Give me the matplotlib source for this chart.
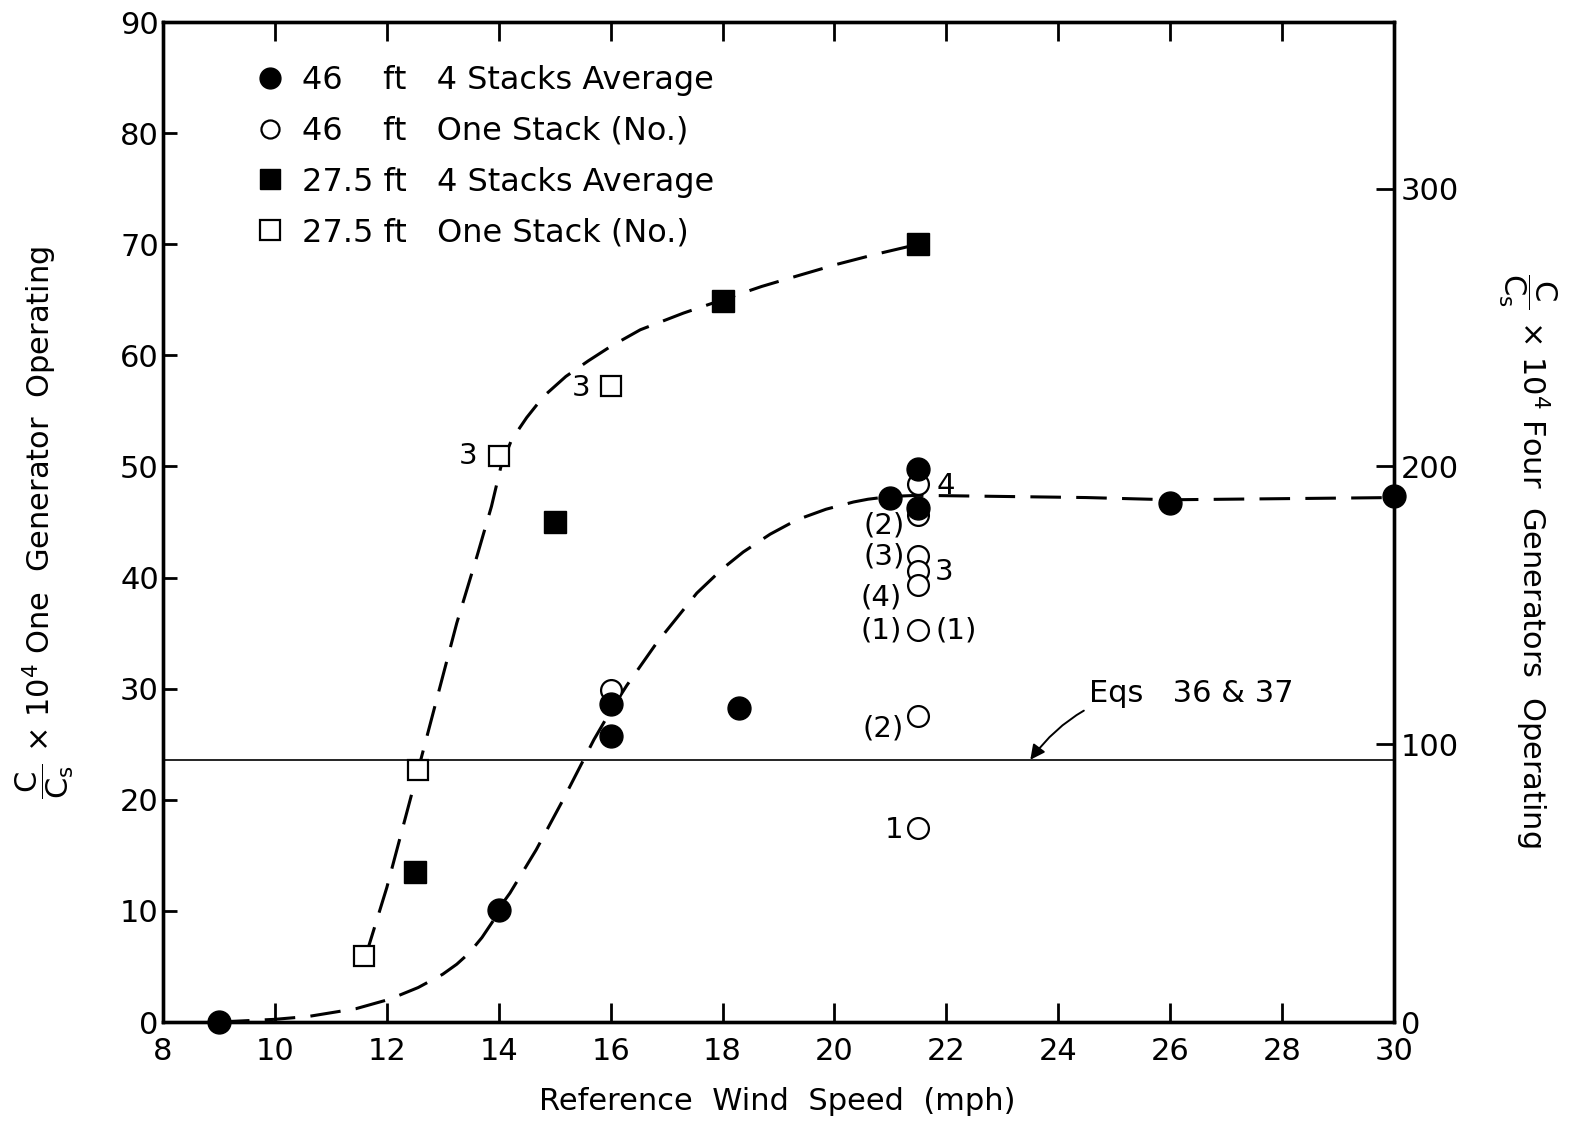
import matplotlib
matplotlib.use("Agg")
import matplotlib.pyplot as plt
from matplotlib.lines import Line2D

# ---------------- data ----------------
avg46_x = [9, 14, 16, 16, 18.3, 21, 21.5, 21.5, 26, 30]
avg46_y = [0, 10.1, 28.6, 25.7, 28.3, 47.2, 49.8, 46.3, 46.7, 47.3]

one46_x = [16, 21.5, 21.5, 21.5, 21.5, 21.5, 21.5, 21.5, 21.5]
one46_y = [29.9, 48.4, 45.6, 41.9, 40.6, 39.3, 35.3, 27.5, 17.5]

avg275_x = [12.5, 15, 18, 21.5]
avg275_y = [13.5, 45.0, 64.9, 70.0]

one275_x = [11.6, 12.55, 14, 16]
one275_y = [5.9, 22.7, 50.9, 57.2]

curve46_x = [9, 10, 10.6, 11.45, 12.05, 12.56, 13.0, 13.25, 13.47, 13.7, 13.94,
             14.0, 14.2, 14.67, 15.15, 15.7, 16.0, 16.29, 16.82, 17.54, 18.0,
             18.37, 18.85, 19.33, 19.85, 20.34, 20.6, 21.0, 21.5, 23, 24.5, 26,
             28, 30]
curve46_y = [0, 0.24, 0.5, 1.2, 2.05, 3.1, 4.3, 5.2, 6.2, 7.6, 9.4,
             10.2, 11.6, 15.5, 20.0, 25.4, 28.0, 30.3, 34.1, 38.6, 40.8,
             42.3, 43.9, 45.2, 46.15, 46.8, 47.05, 47.3, 47.4, 47.3, 47.2, 47.0,
             47.1, 47.2]

curve275_x = [11.62, 12.0, 12.56, 12.9, 13.25, 13.61, 13.87, 14.04, 14.23, 14.5,
              14.8, 15.2, 15.6, 16.0, 16.53, 17.3, 18.0, 18.7, 19.37, 20.05,
              20.74, 21.5]
curve275_y = [5.9, 12.1, 22.7, 29.2, 35.9, 41.9, 46.4, 50.0, 52.4, 54.4,
              56.3, 58.1, 59.5, 60.8, 62.3, 63.8, 65.0, 66.2, 67.2, 68.2,
              69.1, 70.0]

eq_value = 23.6

# point labels (text, x, y of the point they belong to)
lab_text = ["3", "3", "4", "(2)", "(3)", "3", "(4)", "(1)", "(1)", "(2)", "1"]
lab_x = [14, 16, 21.5, 21.5, 21.5, 21.5, 21.5, 21.5, 21.5, 21.5, 21.5]
lab_y = [50.9, 57.2, 48.4, 45.6, 41.9, 40.6, 39.3, 35.3, 35.3, 27.5, 17.5]
# offsets in pixels (style)
lab_dx = [-31, -30, 27, -34, -34, 26, -37, -37, 38, -35, -24]
lab_dy = [0, -2, -2, -10, 0, -1, -12, -1, -1, -12, -2]

xticks = list(range(8, 31, 2))
yticks = list(range(0, 91, 10))
rticks = [0, 100, 200, 300]

legend_labels = ["46    ft   4 Stacks Average",
                 "46    ft   One Stack (No.)",
                 "27.5 ft   4 Stacks Average",
                 "27.5 ft   One Stack (No.)"]

# ---------------- figure ----------------
plt.rcParams["font.family"] = ["DejaVu Sans"]
plt.rcParams["mathtext.fontset"] = "dejavusans"

W, H = 1571, 1122
fig = plt.figure(figsize=(W / 100, H / 100), dpi=100)
ax = fig.add_axes([163 / W, 1 - 1022 / H, (1394 - 163) / W, (1022 - 22) / H])

ax.set_xlim(8, 30)
ax.set_ylim(0, 90)

dash = (0, (10, 5))
ax.plot(curve46_x, curve46_y, color="black", lw=2.2, linestyle=dash, zorder=2)
ax.plot(curve275_x, curve275_y, color="black", lw=2.2, linestyle=dash, zorder=2)
ax.axhline(eq_value, color="black", lw=1.2, zorder=1)

ax.plot(one46_x, one46_y, ls="none", marker="o", ms=15, mfc="white", mec="black",
        mew=1.6, zorder=3, clip_on=False)
ax.plot(one275_x, one275_y, ls="none", marker="s", ms=15, mfc="white", mec="black",
        mew=1.6, zorder=3, clip_on=False)
ax.plot(avg46_x, avg46_y, ls="none", marker="o", ms=16.5, mfc="black", mec="black",
        zorder=4, clip_on=False)
ax.plot(avg275_x, avg275_y, ls="none", marker="s", ms=15.5, mfc="black", mec="black",
        zorder=4, clip_on=False)

for t, x, y, dx, dy in zip(lab_text, lab_x, lab_y, lab_dx, lab_dy):
    ax.annotate(t, xy=(x, y), xytext=(dx, dy), textcoords="offset pixels",
                ha="center", va="center", fontsize=21)

ax.annotate("Eqs   36 & 37", xy=(23.5, eq_value), xytext=(24.55, 29.6),
            fontsize=22, ha="left", va="center",
            arrowprops=dict(arrowstyle="-|>", color="black", lw=1.4,
                            mutation_scale=22,
                            connectionstyle="arc3,rad=0.3",
                            shrinkA=2, shrinkB=0))

# axes styling
for s in ax.spines.values():
    s.set_linewidth(2.4)
ax.set_xticks(xticks)
ax.set_xticklabels([str(v) for v in xticks])
ax.set_yticks(yticks)
ax.set_yticklabels([str(v) for v in yticks])
ax.tick_params(axis="x", direction="in", length=14, width=2, top=True,
               labelsize=22, pad=11)
ax.tick_params(axis="y", direction="in", length=10, width=2, right=False,
               labelsize=22, pad=3)

ax.set_xlabel("Reference  Wind  Speed  (mph)", fontsize=22, va="center")
ax.xaxis.set_label_coords(0.499, -0.080)
ax.set_ylabel(r"$\dfrac{\mathrm{C}}{\mathrm{C_s}}$ × 10$^4$ One  Generator  Operating",
              fontsize=22, va="center")
ax.yaxis.set_label_coords(-0.096, 0.499)

ax2 = ax.twinx()
ax2.set_ylim(0, 360)
ax2.set_yticks(rticks)
ax2.set_yticklabels([str(v) for v in rticks])
ax2.tick_params(axis="y", direction="in", length=13, width=2, labelsize=22, pad=5)
for s in ax2.spines.values():
    s.set_linewidth(2.4)
ax2.set_ylabel(r"$\dfrac{\mathrm{C}}{\mathrm{C_s}}$ × 10$^4$ Four  Generators  Operating",
               fontsize=22, rotation=270, va="center")
ax2.yaxis.set_label_coords(1.108, 0.462)

handles = [
    Line2D([], [], ls="none", marker="o", ms=15, mfc="black", mec="black"),
    Line2D([], [], ls="none", marker="o", ms=13, mfc="white", mec="black", mew=1.6),
    Line2D([], [], ls="none", marker="s", ms=14, mfc="black", mec="black"),
    Line2D([], [], ls="none", marker="s", ms=14, mfc="white", mec="black", mew=1.6),
]
ax.legend(handles, legend_labels, loc="upper left", bbox_to_anchor=(0.074, 0.957),
          frameon=False, fontsize=23, handlelength=1.0, handletextpad=0.5,
          labelspacing=0.62, borderpad=0, borderaxespad=0)

fig.savefig("out.png", dpi=100)
